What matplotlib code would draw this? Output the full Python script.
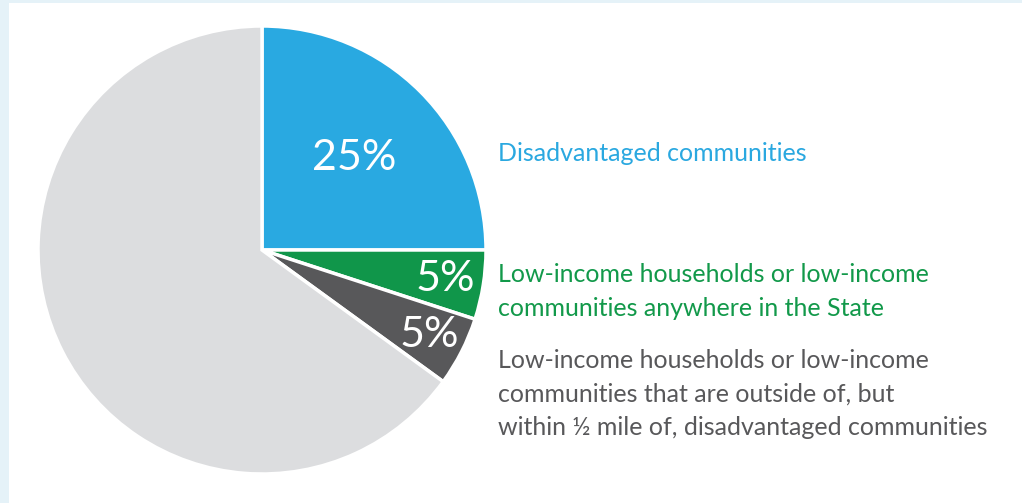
import matplotlib
matplotlib.use("Agg")
import matplotlib.pyplot as plt
from matplotlib.patches import Rectangle
import numpy as np

# Data
shares = [25, 5, 5, 65]
pct_labels = ["25%", "5%", "5%", ""]
colors = ["#29a9e1", "#10964a", "#58585a", "#dcdddf"]
label_lines = [
    ["Disadvantaged communities"],
    ["Low-income households or low-income",
     "communities anywhere in the State"],
    ["Low-income households or low-income",
     "communities that are outside of, but",
     "within \u00bd mile of, disadvantaged communities"],
]
label_colors = ["#2aa8e0", "#12994a", "#58585a"]

W, H = 1022, 503
fig = plt.figure(figsize=(W / 100, H / 100), dpi=100)
fig.patch.set_facecolor("white")
ax = fig.add_axes([0, 0, 1, 1])
ax.set_xlim(0, W)
ax.set_ylim(0, H)
ax.set_aspect("equal")
ax.axis("off")

# light frame strips
ax.add_patch(Rectangle((0, 0), 9, H, color="#e5f2f8", lw=0, zorder=0))
ax.add_patch(Rectangle((0, H - 3), W, 3, color="#e5f2f8", lw=0, zorder=0))

cx, cy, R = 262, H - 250, 224
wedges, _ = ax.pie(shares, colors=colors, startangle=90, counterclock=False,
                   center=(cx, cy), radius=R, frame=True,
                   wedgeprops=dict(edgecolor="white", linewidth=2.5))
ax.set_xlim(0, W)
ax.set_ylim(0, H)
ax.axis("off")

font = "Lato"
dists = [0.58, 0.83, 0.84]
for w, lab, d in zip(wedges, pct_labels, dists + [0]):
    if not lab:
        continue
    th = np.deg2rad((w.theta1 + w.theta2) / 2)
    ax.text(cx + d * R * np.cos(th), cy + d * R * np.sin(th), lab,
            ha="center", va="center", color="white", fontsize=31,
            family=font)

first_baselines = [161, 282, 368]
step = 33.5
for lines, col, b0 in zip(label_lines, label_colors, first_baselines):
    for i, line in enumerate(lines):
        ax.text(498, H - (b0 + i * step), line, ha="left", va="baseline",
                color=col, fontsize=18, family=font)

fig.savefig("out.png", dpi=100, facecolor="white")
